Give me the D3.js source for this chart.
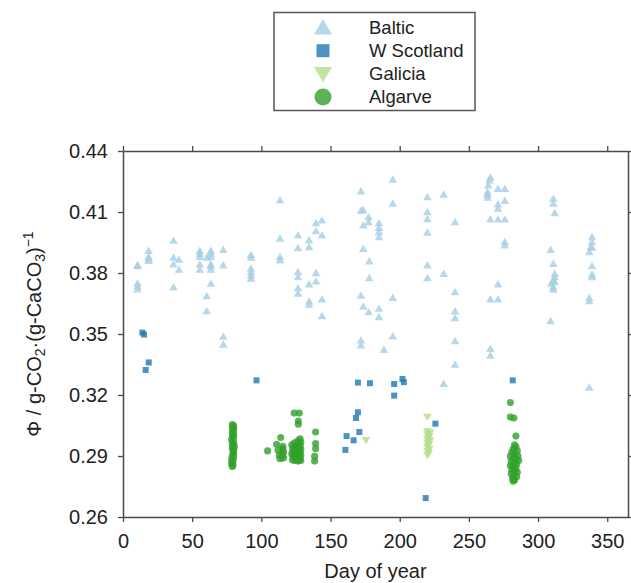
<!DOCTYPE html>
<html>
<head>
<meta charset="utf-8">
<script src="https://cdn.jsdelivr.net/npm/d3@7"></script>
<style>
  body { margin: 0; background: #fff; }
  text { font-family: "Liberation Sans", Arial, sans-serif; fill: #222; }
</style>
</head>
<body>
<div id="vis"></div>
<script>
// series: [day of year, phi]
var baltic = [
  [10.5,0.384],[10.5,0.3835],[10.5,0.375],[10.5,0.3735],[10.5,0.372],
  [18.5,0.391],[18.5,0.388],[18.5,0.387],[18.5,0.386],
  [36.5,0.396],[36.5,0.3876],[36.5,0.3843],[36.5,0.373],
  [40.5,0.3866],[40.5,0.3817],
  [55.5,0.391],[55.5,0.3896],[55.5,0.388],[55.5,0.3843],[55.5,0.3817],
  [60.5,0.3876],[60.5,0.3687],[60.5,0.3613],
  [63.5,0.391],[63.5,0.3896],[63.5,0.388],[63.5,0.3843],[63.5,0.3833],[63.5,0.3817],[63.5,0.3748],
  [72.5,0.3915],[72.5,0.3838],[72.5,0.3488],[72.5,0.3449],
  [92.5,0.389],[92.5,0.3876],[92.5,0.3822],[92.5,0.3805],[92.5,0.3789],[92.5,0.3773],
  [113.5,0.4158],[113.5,0.397],[113.5,0.3879],[113.5,0.3863],
  [126.5,0.3986],[126.5,0.3923],[126.5,0.3805],[126.5,0.378],[126.5,0.3726],[126.5,0.3699],
  [134.5,0.3961],[134.5,0.3928],[134.5,0.3745],[134.5,0.3661],[134.5,0.3645],
  [139.5,0.4046],[139.5,0.4007],[139.5,0.38],[139.5,0.3759],
  [143.8,0.4059],[143.8,0.3986],[143.8,0.3671],[143.8,0.3589],
  [172,0.4202],[172,0.4108],[173.7,0.411],[173.7,0.4035],[173.7,0.392],[172,0.369],[173.7,0.3636],[172,0.3469],[172,0.3445],
  [177.5,0.4075],[177.5,0.4051],[178,0.3858],[178,0.3776],[177.5,0.3608],
  [185,0.4046],[185,0.4023],[185,0.4002],[185,0.3977],[185,0.3625],[185,0.3584],
  [188.6,0.3423],
  [195,0.426],[195,0.4142],[195,0.3679],[195,0.3489],
  [220,0.4174],[220,0.41],[220,0.4066],[220,0.3999],[220,0.3838],[220,0.3776],
  [231.8,0.4186],[231.8,0.3797],[231.8,0.3256],
  [240,0.4051],[240,0.3707],[240,0.3612],[240,0.3579],[240,0.3466],[240,0.335],
  [265.5,0.427],[265,0.4256],[264,0.4232],[263.5,0.4199],[263.5,0.4186],[263.5,0.4171],
  [271,0.4215],[276,0.4215],[276,0.4156],[271,0.4138],[271,0.4117],[265.5,0.4064],[271,0.4064],[276,0.4064],
  [276,0.3953],[276,0.3937],[271,0.3745],[265.5,0.3671],[271,0.3671],[265.5,0.3428],[265.5,0.3395],
  [309,0.3915],[311,0.4166],[311,0.4142],[312,0.4095],[311,0.3846],[312,0.3797],[312,0.378],[311,0.3764],
  [309.5,0.3748],[311,0.3731],[312,0.3756],[311,0.3719],[309,0.3564],
  [339,0.3977],[339,0.3953],[338,0.3928],[339,0.3925],[337,0.3904],[339,0.3835],[339,0.3794],[339,0.378],
  [337,0.3679],[337,0.3662],[337,0.3237]
];

var wScotland = [
  [14,0.3507],[15.2,0.3497],[18.6,0.336],[16.4,0.3323],[96.5,0.3272],[169.8,0.3261],[178.5,0.3258],
  [169.8,0.3115],[168.4,0.3087],[170.8,0.3018],[161.6,0.2998],[166.7,0.2977],[160.7,0.293],
  [196,0.3254],[202,0.3279],[203,0.3263],[196,0.3197],[225.8,0.3059],[218.8,0.2693],[281.7,0.3272]
];

var galicia = [
  [175.6,0.2977],[220,0.3092],[220,0.3022],[222,0.3014],[220,0.3005],[221.5,0.2996],[220,0.2985],
  [222,0.2975],[220,0.2966],[221,0.2955],[220,0.2945],[221.5,0.2935],[220,0.2925],[221,0.2913],[220,0.2905]
];

var algarve = [
  [79,0.3055],[80,0.3048],[79,0.304],[80,0.3032],[79.5,0.3024],[79,0.3015],[80,0.3008],[79,0.2998],
  [80,0.299],[78.5,0.298],[79.5,0.297],[80,0.2962],[79,0.2955],[80.5,0.2947],[79,0.2938],[80,0.293],
  [79.5,0.292],[80,0.291],[79,0.29],[80,0.2892],[78.5,0.2882],[79.5,0.2872],[78.5,0.2862],[79.5,0.2855],[79,0.2848],
  [104.5,0.2925],[111,0.2958],[114,0.2991],[112,0.2928],[113,0.2903],[113.5,0.2887],
  [115.5,0.2948],[115.5,0.2935],[116,0.292],[115.5,0.2905],[116,0.289],
  [122,0.2955],[123,0.294],[122.5,0.2925],[122,0.291],[123,0.2895],[122.5,0.288],
  [124,0.2965],[125,0.295],[124.5,0.2935],[125,0.292],[124,0.2905],[125,0.289],[124.5,0.2878],
  [126.5,0.2975],[127,0.296],[126.5,0.2945],[127.5,0.293],[126.5,0.2915],[127,0.29],[127.5,0.2885],[126.5,0.2875],
  [128,0.2985],[128.5,0.2968],[128,0.295],[128.5,0.2935],[128,0.292],[128.5,0.2905],[128,0.289],[128.5,0.2878],
  [123.7,0.3111],[127.4,0.3111],[126.7,0.3072],[126.7,0.3056],
  [139.2,0.3018],[139.2,0.2961],[139.2,0.2936],[138.5,0.2899],[138.5,0.2875],
  [280,0.3163],[280,0.3092],[282.5,0.3087],[284,0.2998],
  [283,0.2955],[284,0.2945],[282,0.2935],[285,0.2925],[281,0.2918],[283,0.291],[285.5,0.29],[280,0.2898],
  [282,0.289],[284,0.2885],[286,0.2878],[280.5,0.2872],[282.5,0.2865],[284.5,0.286],[280,0.2852],[282,0.2845],
  [284,0.284],[281,0.2832],[283,0.2825],[285,0.282],[280.5,0.2812],[282.5,0.2805],[284.5,0.2798],[281.5,0.279],
  [283,0.2782],[282,0.2776]
];

var seriesNames = ["Baltic", "W Scotland", "Galicia", "Algarve"];
var seriesColours = ["#a6cee3", "#1f78b4", "#b2df8a", "#33a02c"];
var xTicks = [0, 50, 100, 150, 200, 250, 300, 350];
var yTicks = [0.26, 0.29, 0.32, 0.35, 0.38, 0.41, 0.44];

var width = 631, height = 583;
var margin = {left: 123, right: 3, top: 151, bottom: 66};

var svg = d3.select("#vis").append("svg")
  .attr("width", width)
  .attr("height", height);

var x = d3.scaleLinear().domain([0, 365]).range([margin.left, width - margin.right]);
var y = d3.scaleLinear().domain([0.26, 0.44]).range([height - margin.bottom, margin.top]);

// symbols, one per series
var symbols = [d3.symbolTriangle, d3.symbolSquare, d3.symbolTriangle, d3.symbolCircle];
var sizes = [32, 36, 32, 40];
var rotations = [0, 0, 180, 0];
var allData = [baltic, wScotland, galicia, algarve];

var g = svg.append("g");
allData.forEach(function(data, i) {
  var sym = d3.symbol().type(symbols[i]).size(sizes[i]);
  g.selectAll(".pt" + i)
    .data(data)
    .enter().append("path")
    .attr("class", "pt" + i)
    .attr("d", sym)
    .attr("transform", function(d) {
      var dy = (symbols[i] === d3.symbolTriangle) ? (rotations[i] ? -0.8 : 0.8) : 0;
      return "translate(" + x(d[0]) + "," + (y(d[1]) + dy) + ") rotate(" + rotations[i] + ")";
    })
    .attr("fill", seriesColours[i])
    .attr("fill-opacity", 0.8);
});

// axes on all four sides
var axisColour = "#4a4a4a";
function styleAxis(sel) {
  sel.select(".domain").attr("stroke", axisColour).attr("stroke-width", 1.5);
  sel.selectAll(".tick line").attr("stroke", axisColour).attr("stroke-width", 1.3);
  sel.selectAll(".tick text").style("font-size", "20px").attr("fill", "#222");
}

svg.append("g")
  .attr("transform", "translate(0," + (height - margin.bottom) + ")")
  .call(d3.axisBottom(x).tickValues(xTicks).tickSize(5).tickSizeOuter(0).tickPadding(12))
  .call(styleAxis);

svg.append("g")
  .attr("transform", "translate(0," + margin.top + ")")
  .call(d3.axisTop(x).tickValues(xTicks).tickSize(5).tickSizeOuter(0).tickFormat(""))
  .call(styleAxis);

svg.append("g")
  .attr("transform", "translate(" + margin.left + ",0)")
  .call(d3.axisLeft(y).tickValues(yTicks).tickSize(5).tickSizeOuter(0).tickPadding(10).tickFormat(d3.format(".2f")))
  .call(styleAxis);

svg.append("g")
  .attr("transform", "translate(" + (width - margin.right) + ",0)")
  .call(d3.axisRight(y).tickValues(yTicks).tickSize(5).tickSizeOuter(0).tickFormat(""))
  .call(styleAxis);

// axis labels
svg.append("text")
  .attr("x", (margin.left + width - margin.right) / 2)
  .attr("y", 578)
  .attr("text-anchor", "middle")
  .style("font-size", "20px")
  .text("Day of year");

var yl = svg.append("text")
  .attr("transform", "translate(41," + ((margin.top + height - margin.bottom) / 2) + ") rotate(-90)")
  .attr("text-anchor", "middle")
  .style("font-size", "20px");
yl.append("tspan").text("\u03A6 / g-CO");
yl.append("tspan").attr("baseline-shift", "-25%").style("font-size", "14px").text("2");
yl.append("tspan").text("\u00B7(g-CaCO");
yl.append("tspan").attr("baseline-shift", "-25%").style("font-size", "14px").text("3");
yl.append("tspan").text(")");
yl.append("tspan").attr("baseline-shift", "55%").style("font-size", "14px").text("\u22121");

// legend
var legend = svg.append("g");
legend.append("rect")
  .attr("x", 274).attr("y", 12.5)
  .attr("width", 201).attr("height", 98)
  .attr("fill", "#fff")
  .attr("stroke", "#555")
  .attr("stroke-width", 1.5);

var legSizes = [140, 169, 140, 227];
seriesNames.forEach(function(name, i) {
  var cy = 27.5 + i * 23.2;
  var dy = (symbols[i] === d3.symbolTriangle) ? (rotations[i] ? -1.8 : 1.8) : 0;
  legend.append("path")
    .attr("d", d3.symbol().type(symbols[i]).size(legSizes[i]))
    .attr("transform", "translate(323," + (cy + dy) + ") rotate(" + rotations[i] + ")")
    .attr("fill", seriesColours[i])
    .attr("fill-opacity", 0.8);
  legend.append("text")
    .attr("x", 369)
    .attr("y", cy + 6.3)
    .style("font-size", "18.5px")
    .text(name);
});
</script>
</body>
</html>
